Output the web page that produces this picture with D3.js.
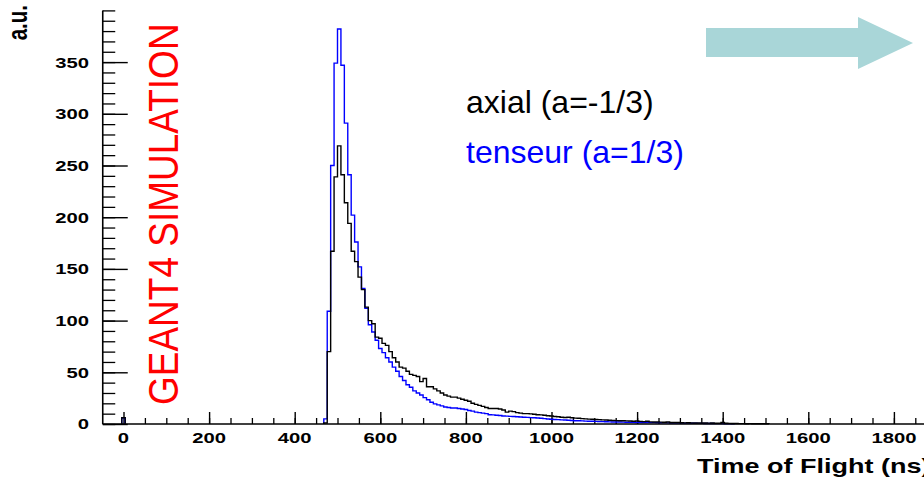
<!DOCTYPE html>
<html>
<head>
<meta charset="utf-8">
<script src="https://cdn.jsdelivr.net/npm/d3@7"></script>
<style>
    body { margin: 0; background: #fff; }
    svg { display: block; }
    .rootText { font-family: "Liberation Sans", Arial, sans-serif; font-weight: bold; }
    .overlay { font-family: "Liberation Sans", Arial, sans-serif; }
</style>
</head>
<body>
<div id="chart"></div>
<script>
// Histogram binning (ns)
const binWidth = 8;
const firstEdge = 468;

// lone bin sitting at t = 0
const earlyEdge = -4;
const earlyAxial = 6;
const earlyTenseur = 6;

// axial (a=-1/3), one value per 8 ns bin starting at 468 ns
const axialCounts = [
    1, 70, 167, 239, 269, 241, 214, 194, 167, 157,
    142, 130, 113, 100, 97, 84, 83, 78, 76, 70,
    64, 60, 55, 54, 51, 48, 47, 46, 41, 44,
    36, 36, 34, 32, 30, 28, 27, 26, 26, 25,
    24, 23, 22, 20, 19, 18, 17, 16, 15, 15,
    15, 14.5, 13.5, 11.5, 12.5, 12, 11, 10.5, 10, 10,
    9.8, 9.5, 9, 8.8, 8.5, 8, 7.8, 7.2, 7, 6.5,
    6.3, 6.5, 6, 5.7, 5.5, 5.2, 5, 4.7, 4.6, 4.4,
    4.2, 4, 3.8, 3.6, 3.4, 3.3, 3.2, 3.2, 3, 2.9,
    2.7, 2.9, 2.5, 2.3, 2.6, 2.1, 2, 2, 1.8, 1.7,
    1.9, 1.5, 1.4, 1.5, 1.2, 1.1, 1.2, 1.1, 1.0, 0.9,
    1.0, 0.9, 0.8, 0.9, 0.7, 0.7, 1.5, 0.7, 0.6, 0.5,
    0.5, 0.4, 0.4, 0.3, 0.4, 0.3, 0.3, 0.2, 0.3, 0.2
];

// tenseur (a=1/3), same binning
const tenseurCounts = [
    5, 109, 250, 349, 382, 347, 291, 241, 202, 176,
    152, 131, 112, 96, 89, 81, 73, 69, 64, 60,
    55, 51, 46, 42, 38, 35.5, 32, 30, 28, 25.5,
    23.5, 21, 19.5, 18.5, 17.5, 16.5, 16, 15.5, 15.5, 15,
    14.5, 14, 13, 12.5, 11.5, 11, 10.5, 10, 9, 8.8,
    8.5, 8.2, 7.8, 7.6, 7.4, 7.2, 7, 6.8, 6.6, 6.4,
    6.2, 6, 5.8, 5.5, 5.2, 4.9, 4.6, 4.4, 4.2, 4,
    3.8, 3.6, 3.4, 3.2, 3.1, 3, 2.8, 2.7, 2.6, 2.5,
    2.4, 2.3, 2.2, 2.1, 2.0, 1.9, 1.9, 1.8, 1.7, 1.7,
    1.6, 1.5, 1.5, 1.4, 1.4, 1.3, 1.3, 1.2, 1.2, 1.1,
    1.1, 1.0, 1.0, 0.9, 0.9, 0.8, 0.8, 0.7, 0.7, 0.6,
    0.6, 0.5, 0.5, 0.5, 0.4, 0.4, 0.4, 0.3, 0.3, 0.3
];

const xMajorTicks = [0, 200, 400, 600, 800, 1000, 1200, 1400, 1600, 1800];
const yMajorTicks = [0, 50, 100, 150, 200, 250, 300, 350];

const xTitle = 'Time of Flight (ns)';
const yTitle = 'a.u.';
const seriesNames = ['axial (a=-1/3)', 'tenseur (a=1/3)'];
const seriesColors = ['#000000', '#0000ff'];
const stamp = 'GEANT4 SIMULATION';

let width = 924,
    height = 477;

let svg = d3.select('#chart').append('svg')
    .attr('width', width)
    .attr('height', height);

// Set up scales
let xScale = d3.scaleLinear()
        .domain([0, 1800])
        .range([123.5, 893.9]),
    yScale = d3.scaleLinear()
        .domain([0, 400])
        .range([424, 10.4]);

let frameLeft = xScale(-48.5);

// ticks (ROOT style: inside the frame)
function cleanAxis(g, w) {
    g.select('.domain').remove();
    g.selectAll('.tick line').attr('stroke', '#000').attr('stroke-width', w);
}

svg.append('g')
    .attr('transform', 'translate(0,' + yScale(0) + ')')
    .call(d3.axisBottom(xScale).tickValues(d3.range(50, 1851, 50)).tickSize(-6).tickFormat(''))
    .call(g => cleanAxis(g, 1.3));

svg.append('g')
    .attr('transform', 'translate(0,' + yScale(0) + ')')
    .call(d3.axisBottom(xScale).tickValues(xMajorTicks).tickSize(-12).tickFormat(''))
    .call(g => cleanAxis(g, 1.4));

svg.append('g')
    .attr('transform', 'translate(' + frameLeft + ',0)')
    .call(d3.axisRight(yScale).tickValues(d3.range(0, 401, 10)).tickSize(12.5).tickFormat(''))
    .call(g => cleanAxis(g, 1.3));

svg.append('g')
    .attr('transform', 'translate(' + frameLeft + ',0)')
    .call(d3.axisRight(yScale).tickValues(yMajorTicks).tickSize(25).tickFormat(''))
    .call(g => cleanAxis(g, 1.4));

// histograms
let line = d3.line()
    .x(d => xScale(d[0]))
    .y(d => yScale(d[1]))
    .curve(d3.curveStepAfter);

function histPoints(counts) {
    let pts = [[firstEdge, 0]];
    counts.forEach(function (c, i) {
        pts.push([firstEdge + i * binWidth, c]);
    });
    let end = firstEdge + counts.length * binWidth;
    pts.push([end, counts[counts.length - 1]]);
    pts.push([end, 0]);
    return pts;
}

function earlyPoints(c) {
    return [[earlyEdge, 0], [earlyEdge, c], [earlyEdge + binWidth, c], [earlyEdge + binWidth, 0]];
}

[[tenseurCounts, earlyTenseur, seriesColors[1]], [axialCounts, earlyAxial, seriesColors[0]]].forEach(function (s) {
    svg.append('path')
        .attr('d', line(histPoints(s[0])))
        .attr('fill', 'none')
        .attr('stroke', s[2])
        .attr('stroke-width', 1.4);
    svg.append('path')
        .attr('d', line(earlyPoints(s[1])))
        .attr('fill', 'none')
        .attr('stroke', s[2])
        .attr('stroke-width', 1.4);
});

// axis lines
svg.append('line')
    .attr('x1', frameLeft).attr('x2', width + 5)
    .attr('y1', yScale(0)).attr('y2', yScale(0))
    .attr('stroke', '#000').attr('stroke-width', 1.6);

svg.append('line')
    .attr('x1', frameLeft).attr('x2', frameLeft)
    .attr('y1', yScale(0)).attr('y2', yScale(400))
    .attr('stroke', '#000').attr('stroke-width', 1.6);

// ROOT text is stretched sideways in the picture
function rootText(x, y, str, size, anchor, rot) {
    return svg.append('text')
        .attr('transform', 'translate(' + x + ',' + y + ') scale(1.35,1)' + (rot ? ' rotate(-90)' : ''))
        .attr('text-anchor', anchor)
        .attr('class', 'rootText')
        .attr('font-size', size)
        .text(str);
}

xMajorTicks.forEach(function (v) {
    rootText(xScale(v), 443, v, 15, 'middle');
});

yMajorTicks.forEach(function (v) {
    rootText(89, yScale(v) + 5.4, v, 15, 'end');
});

rootText(697, 473, xTitle, 20, 'start');
rootText(27, 5, yTitle, 20.5, 'end', true);

// overlay labels
svg.append('text')
    .attr('class', 'overlay')
    .attr('transform', 'translate(178,405) scale(1.15,1) rotate(-90)')
    .attr('font-size', 37)
    .attr('fill', '#ff0000')
    .text(stamp);

seriesNames.forEach(function (name, i) {
    svg.append('text')
        .attr('class', 'overlay')
        .attr('x', 466)
        .attr('y', 113 + i * 50)
        .attr('font-size', 32)
        .attr('fill', seriesColors[i])
        .text(name);
});

// arrow in the top right corner
svg.append('polygon')
    .attr('points', [[706, 28], [858, 28], [858, 17], [913, 43], [858, 69], [858, 57], [706, 57]].join(' '))
    .attr('fill', '#a9d6d8');
</script>
</body>
</html>
